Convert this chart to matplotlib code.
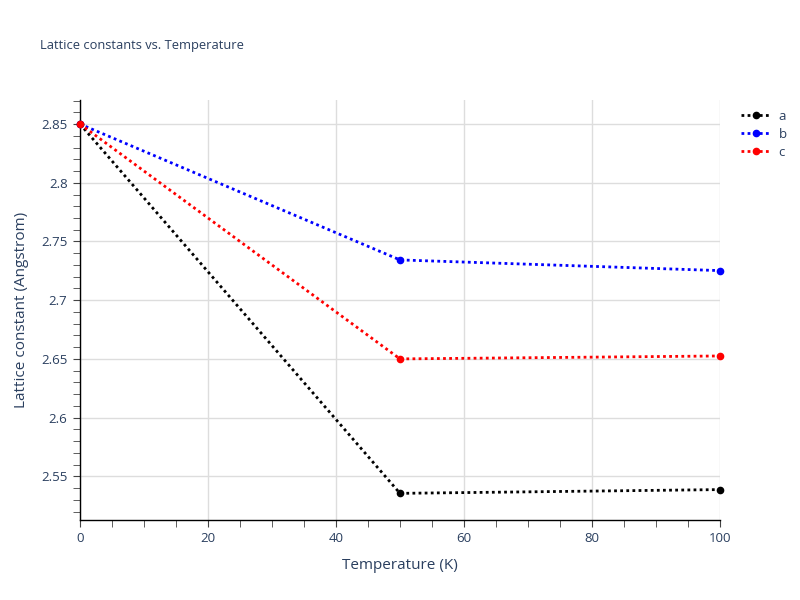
import matplotlib
matplotlib.use("Agg")
import matplotlib.pyplot as plt
from matplotlib.ticker import MultipleLocator
from matplotlib.lines import Line2D

# data
temperature = [0, 50, 100]
lat_a = [2.85, 2.5355, 2.5387]
lat_b = [2.85, 2.7343, 2.7252]
lat_c = [2.85, 2.6500, 2.6525]
series = [("a", lat_a, "black"), ("b", lat_b, "blue"), ("c", lat_c, "red")]

txt = "#2a3f5f"
plt.rcParams["font.family"] = ["Open Sans", "DejaVu Sans"]

fig = plt.figure(figsize=(8, 6), dpi=100)
ax = fig.add_axes([0.1, 1 - 520 / 600, 0.8, 420 / 600])

handles = []
for name, vals, col in series:
    ax.plot(temperature, vals, linestyle=(0, (1, 1.2)), linewidth=2, color=col,
            marker="o", markersize=4.5, clip_on=False, zorder=3)
    handles.append(Line2D([0], [0], linestyle=(0, (1, 1.2)), linewidth=2, color=col,
                          marker="o", markersize=4.5))

ax.set_xlim(0, 100)
ax.set_ylim(2.5128, 2.8705)
ax.xaxis.set_major_locator(MultipleLocator(20))
ax.xaxis.set_minor_locator(MultipleLocator(5))
ax.yaxis.set_major_locator(MultipleLocator(0.05))
ax.yaxis.set_minor_locator(MultipleLocator(0.01))
ax.yaxis.set_major_formatter(plt.FuncFormatter(lambda v, p: f"{v:.2f}".rstrip("0").rstrip(".")))

ax.grid(True, which="major", color="#dddddd", linewidth=1)
ax.set_axisbelow(True)
for s in ["top", "right"]:
    ax.spines[s].set_visible(False)
for s in ["left", "bottom"]:
    ax.spines[s].set_color("black")
    ax.spines[s].set_linewidth(1)

ax.tick_params(which="major", direction="out", length=5, color="#444444", labelsize=9.5, labelcolor=txt, pad=4)
ax.tick_params(which="minor", direction="out", length=5, color="#444444")

ax.set_xlabel("Temperature (K)", fontsize=11, color=txt, labelpad=9)
ax.set_ylabel("Lattice constant (Angstrom)", fontsize=11, color=txt, labelpad=9)

fig.text(0.05, 1 - 45 / 600, "Lattice constants vs. Temperature", fontsize=9.3, color=txt, va="center")

fig.legend(handles, [s[0] for s in series], loc="upper left", bbox_to_anchor=(0.912, 0.837),
           frameon=False, fontsize=9.5, labelcolor=txt, handlelength=2.2, handletextpad=0.6,
           labelspacing=0.38)

fig.savefig("out.png", dpi=100)
